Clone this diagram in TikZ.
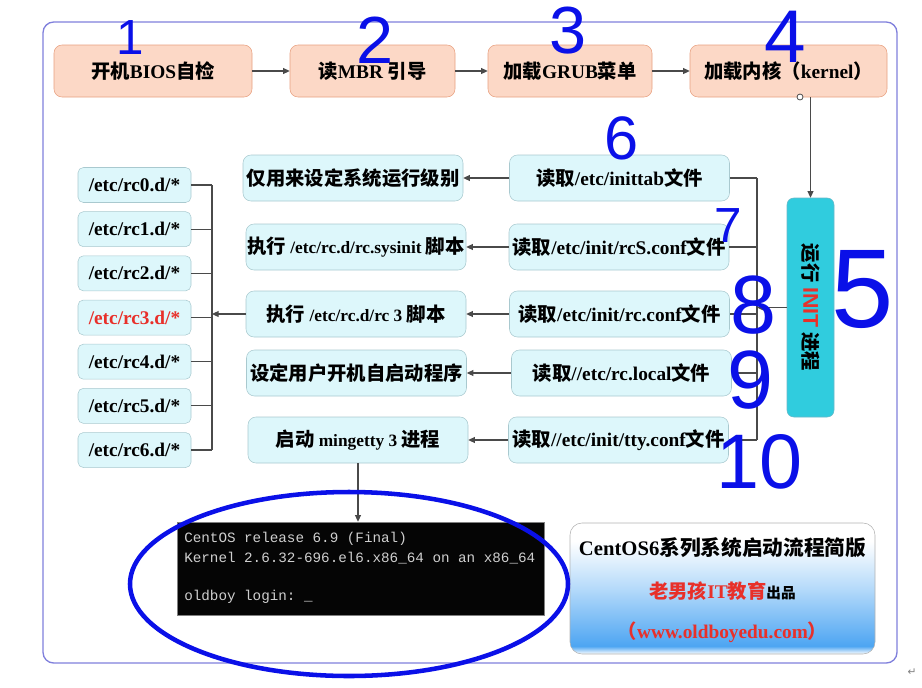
\documentclass[tikz,border=0pt]{standalone}
\usepackage{fontspec}
\setmainfont{Liberation Serif}
\setmonofont{Liberation Mono}
\newfontfamily\cjk{Noto Sans CJK SC}
\newfontfamily\hand{Liberation Sans}
\newfontfamily\glyph{DejaVu Sans}
\newcommand\zh[1]{{\cjk#1}}
\newcommand\lat[1]{{\fontsize{13}{15}\selectfont#1}}
\usetikzlibrary{arrows.meta}
\definecolor{Frame}{HTML}{8080DC}
\definecolor{Peach}{HTML}{FCD8C6}
\definecolor{PeachLine}{HTML}{E8A080}
\definecolor{Aqua}{HTML}{DDF7FB}
\definecolor{AquaLine}{HTML}{A9C9CF}
\definecolor{InitFill}{HTML}{30CCDE}
\definecolor{InitLine}{HTML}{6AB8C8}
\definecolor{Wire}{HTML}{4A4A4A}
\definecolor{Alert}{HTML}{E8302A}
\definecolor{Screen}{HTML}{050505}
\definecolor{ScreenText}{HTML}{CFCFCF}
\definecolor{Ink}{HTML}{0A10E8}
\definecolor{PlateBlue}{HTML}{4DA5F2}
\definecolor{PlateMid}{HTML}{B5DAFA}
\pgfdeclareverticalshading{plate}{100bp}{color(0bp)=(white); color(25bp)=(white); color(28bp)=(PlateBlue); color(50bp)=(PlateMid); color(68bp)=(white); color(100bp)=(white)}

\begin{document}
\begin{tikzpicture}[x=0.75pt,y=-0.75pt,every node/.style={font=\fontsize{14.5}{17}\selectfont\bfseries,text=black},boot/.style={draw=PeachLine,fill=Peach,rounded corners=6pt,minimum height=39pt},task/.style={draw=AquaLine,fill=Aqua,rounded corners=6pt,minimum width=165pt,minimum height=34.5pt,inner sep=1pt},level/.style={draw=AquaLine,fill=Aqua,rounded corners=4pt,minimum width=84.75pt,minimum height=26.25pt,inner sep=1pt},link/.style={draw=Wire,line width=0.8pt},tip/.style={link,-{Triangle[length=5pt,width=4.5pt]}},digit/.style={text=Ink,font=\hand\fontsize{#1}{#1}\selectfont,inner sep=0pt}]
\useasboundingbox (0,0) rectangle (922,687);
\draw[Frame,line width=1pt,rounded corners=8pt] (43,22) rectangle (897,663);

% boot chain
\node[boot,minimum width=148.5pt] (b1) at (153,71) {\zh{开机}BIOS\zh{自检}};
\node[boot,minimum width=123.75pt] (b2) at (372.5,71) {\zh{读}MBR \zh{引导}};
\node[boot,minimum width=123pt] (b3) at (570,71) {\zh{加载}GRUB\zh{菜单}};
\node[boot,minimum width=147.75pt] (b4) at (788.5,71) {\zh{加载内核（}kernel\zh{）}};
\draw[tip] (b1.east)--(b2.west); \draw[tip] (b2.east)--(b3.west); \draw[tip] (b3.east)--(b4.west);

% init
\node[draw=InitLine,fill=InitFill,rounded corners=5pt,minimum width=35.25pt,minimum height=164.25pt] (init) at (810.5,307.5) {};
\node[rotate=-90] (initlabel) at (init) {\zh{运行} \textcolor{Alert}{\hand\bfseries\fontsize{16}{18}\selectfont INIT} \zh{进程}};
\node[circle,draw=Wire,fill=white,inner sep=0pt,minimum size=4.5pt,line width=0.6pt] (grip) at (800,97) {};
\draw[tip] (init.north |- b4.south)--(init.north);

% read / run
\node[task] (r1) at (619.5,178) {\zh{读取}/etc/inittab\zh{文件}};
\node[task] (r2) at (619,247) {\zh{读取}/etc/init/rcS.conf\zh{文件}};
\node[task] (r3) at (619.5,314) {\zh{读取}/etc/init/rc.conf\zh{文件}};
\node[task] (r4) at (621.5,373) {\zh{读取}//etc/rc.local\zh{文件}};
\node[task] (r5) at (618.5,440) {\zh{读取}//etc/init/tty.conf\zh{文件}};
\node[task] (m1) at (353,178) {\zh{仅用来设定系统运行级别}};
\node[task] (m2) at (356,247) {\zh{执行}\lat{ /etc/rc.d/rc.sysinit }\zh{脚本}};
\node[task] (m3) at (356,314) {\zh{执行}\lat{ /etc/rc.d/rc 3 }\zh{脚本}};
\node[task] (m4) at (356.5,373) {\zh{设定用户开机自启动程序}};
\node[task] (m5) at (358,440) {\zh{启动}\lat{ mingetty 3 }\zh{进程}};
\coordinate (rbus) at (757,0); \coordinate (lbus) at (212,0);
\foreach \n in {1,...,5} {\draw[link] (r\n.east)--(r\n.east -| rbus); \draw[tip] (r\n.west)--(m\n.east);}
\draw[link] (r1.east -| rbus)--(r5.east -| rbus);
\draw[tip] (init.west)--(init.west -| rbus);

% run levels
\foreach \n/\c in {0/black,1/black,2/black,3/Alert,4/black,5/black,6/black} \node[level,text=\c] (rc\n) at (134.5,{185+44.17*\n}) {/etc/rc\n.d/*};
\foreach \n in {0,...,6} \draw[link] (rc\n.east)--(rc\n.east -| lbus);
\draw[link] (rc0.east -| lbus)--(rc6.east -| lbus);
\draw[tip] (m3.west)--(m3.west -| lbus);

% console
\node[draw=gray,fill=Screen,minimum width=275.25pt,minimum height=69.75pt] (term) at (360.5,568.5) {};
\node[anchor=west,align=left,text=ScreenText,font=\ttfamily\fontsize{10.7}{14.5}\selectfont,inner sep=0pt] (prompt) at (184,568) {CentOS release 6.9 (Final)\\Kernel 2.6.32-696.el6.x86\_64 on an x86\_64\\[14.5pt]oldboy login: \_};
\draw[tip] (m5.south)--(m5.south |- term.north);

% plate
\node[draw=gray!60,shade,shading=plate,rounded corners=9pt,minimum width=228.75pt,minimum height=98.25pt] (plate) at (722.5,588.5) {};
\node (title) at (722.5,548) {\fontsize{15.5}{18}\selectfont CentOS6\zh{系列系统启动流程简版}};
\node (brand) at (722.5,591) {\textcolor{Alert}{\zh{老男孩}IT\zh{教育}}{\fontsize{11}{13}\selectfont\zh{出品}}};
\node (site) at (722.5,632) {\textcolor{Alert}{\zh{（}www.oldboyedu.com\zh{）}}};
\node[text=gray,font=\glyph\fontsize{8}{8}\selectfont] (mark) at (912,672) {↵};

% pen marks
\draw[Ink,line width=3.4pt] (349,584) ellipse [x radius=219,y radius=92];
\node[digit=37] (n1) at (130,38) {1}; \node[digit=50] (n2) at (375,40) {2}; \node[digit=50] (n3) at (568,31) {3}; \node[digit=56] (n4) at (785,37) {4};
\node[digit=84] (n5) at (863,290) {5}; \node[digit=46] (n6) at (622,138) {6}; \node[digit=37] (n7) at (728,226) {7}; \node[digit=62] (n8) at (753,305) {8};
\node[digit=62] (n9) at (750,380) {9}; \node[digit=58] (n10) at (760,462) {10};
\end{tikzpicture}
\end{document}
